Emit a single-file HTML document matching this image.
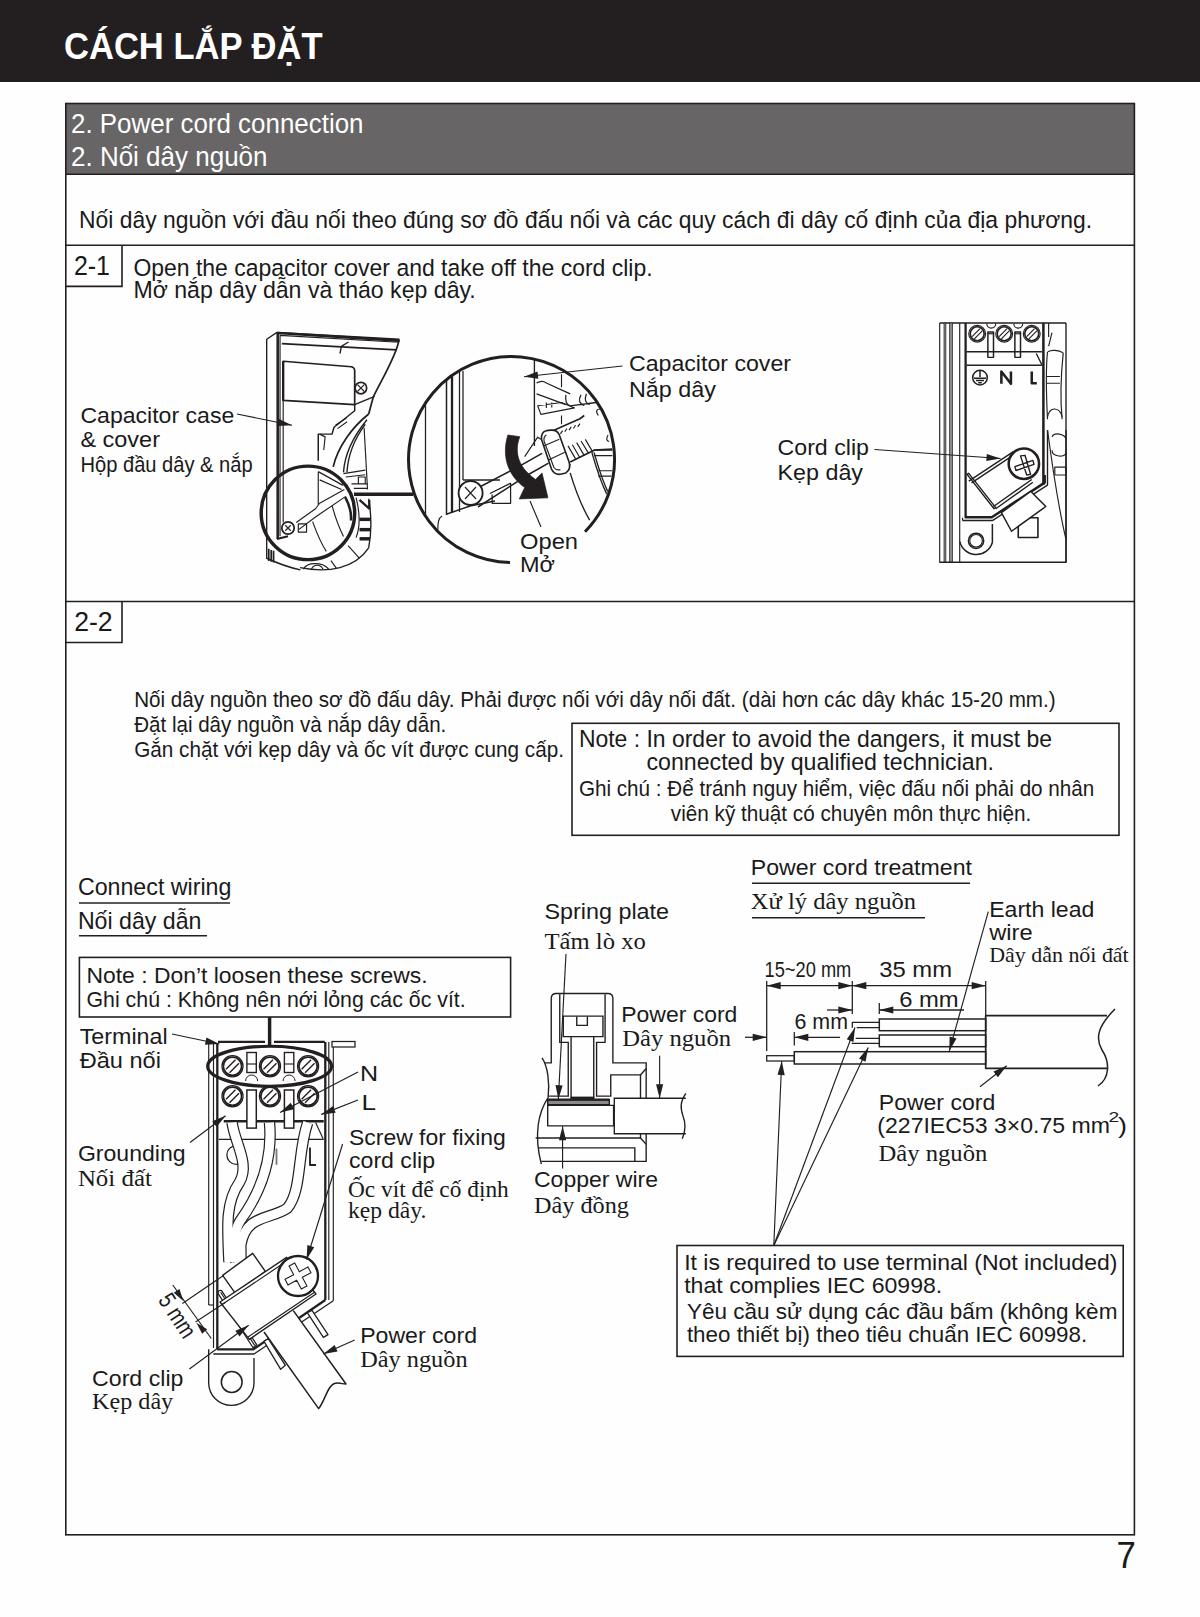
<!DOCTYPE html>
<html><head><meta charset="utf-8"><title>Cách lắp đặt</title>
<style>html,body{margin:0;padding:0;background:#fff;width:1200px;height:1617px;overflow:hidden}svg{display:block}</style>
</head><body>
<svg width="1200" height="1617" viewBox="0 0 1200 1617">
<rect width="1200" height="1617" fill="#fefefe"/>
<rect x="0" y="0" width="1200" height="82" fill="#231f20"/>
<text x="64.00" y="59.40" font-size="37.260000000000005" style="font-family:'Liberation Sans', sans-serif;font-weight:bold;" textLength="258.52" lengthAdjust="spacingAndGlyphs" fill="#ffffff" >CÁCH LẮP ĐẶT</text>
<rect x="65.5" y="103.5" width="1069" height="71" fill="#676566"/>
<text x="71.00" y="132.50" font-size="28.080000000000002" style="font-family:'Liberation Sans', sans-serif;" textLength="292.51" lengthAdjust="spacingAndGlyphs" fill="#ffffff" >2. Power cord connection</text>
<text x="71.00" y="165.80" font-size="28.080000000000002" style="font-family:'Liberation Sans', sans-serif;" textLength="196.50" lengthAdjust="spacingAndGlyphs" fill="#ffffff" >2. Nối dây nguồn</text>
<rect x="65.8" y="103.5" width="1068.6" height="1431.3" stroke="#231f20" stroke-width="1.6" fill="none"/>
<line x1="65.8" y1="174.3" x2="1134.4" y2="174.3" stroke="#231f20" stroke-width="1.6" fill="none"/>
<line x1="65.8" y1="245.3" x2="1134.4" y2="245.3" stroke="#231f20" stroke-width="1.6" fill="none"/>
<line x1="65.8" y1="601.5" x2="1134.4" y2="601.5" stroke="#231f20" stroke-width="1.6" fill="none"/>
<polyline points="65.8,286.4 122,286.4 122,245.3" stroke="#231f20" stroke-width="1.6" fill="none"/>
<polyline points="65.8,642.5 122,642.5 122,601.5" stroke="#231f20" stroke-width="1.6" fill="none"/>
<text x="79.00" y="227.60" font-size="23.76" style="font-family:'Liberation Sans', sans-serif;" textLength="1013.01" lengthAdjust="spacingAndGlyphs" fill="#1a1a1a" >Nối dây nguồn với đầu nối theo đúng sơ đồ đấu nối và các quy cách đi dây cố định của địa phương.</text>
<text x="73.90" y="275.00" font-size="28.080000000000002" style="font-family:'Liberation Sans', sans-serif;" textLength="36.11" lengthAdjust="spacingAndGlyphs" fill="#1a1a1a" >2-1</text>
<text x="133.40" y="275.50" font-size="24.3" style="font-family:'Liberation Sans', sans-serif;" textLength="519.20" lengthAdjust="spacingAndGlyphs" fill="#1a1a1a" >Open the capacitor cover and take off the cord clip.</text>
<text x="133.40" y="298.00" font-size="24.3" style="font-family:'Liberation Sans', sans-serif;" textLength="342.39" lengthAdjust="spacingAndGlyphs" fill="#1a1a1a" >Mở nắp dây dẫn và tháo kẹp dây.</text>
<text x="80.40" y="422.80" font-size="22.464000000000002" style="font-family:'Liberation Sans', sans-serif;" textLength="153.90" lengthAdjust="spacingAndGlyphs" fill="#1a1a1a" >Capacitor case</text>
<text x="80.40" y="446.60" font-size="22.464000000000002" style="font-family:'Liberation Sans', sans-serif;" textLength="79.60" lengthAdjust="spacingAndGlyphs" fill="#1a1a1a" >&amp; cover</text>
<text x="80.50" y="472.30" font-size="22.464000000000002" style="font-family:'Liberation Sans', sans-serif;" textLength="172.10" lengthAdjust="spacingAndGlyphs" fill="#1a1a1a" >Hộp đầu dây &amp; nắp</text>
<text x="629.00" y="371.30" font-size="22.68" style="font-family:'Liberation Sans', sans-serif;" textLength="162.00" lengthAdjust="spacingAndGlyphs" fill="#1a1a1a" >Capacitor cover</text>
<text x="629.00" y="396.80" font-size="22.68" style="font-family:'Liberation Sans', sans-serif;" textLength="86.99" lengthAdjust="spacingAndGlyphs" fill="#1a1a1a" >Nắp dây</text>
<text x="777.50" y="455.30" font-size="22.68" style="font-family:'Liberation Sans', sans-serif;" textLength="91.50" lengthAdjust="spacingAndGlyphs" fill="#1a1a1a" >Cord clip</text>
<text x="777.50" y="479.80" font-size="22.68" style="font-family:'Liberation Sans', sans-serif;" textLength="85.51" lengthAdjust="spacingAndGlyphs" fill="#1a1a1a" >Kẹp dây</text>
<text x="520.00" y="549.30" font-size="22.68" style="font-family:'Liberation Sans', sans-serif;" textLength="58.01" lengthAdjust="spacingAndGlyphs" fill="#1a1a1a" >Open</text>
<text x="520.00" y="572.30" font-size="22.68" style="font-family:'Liberation Sans', sans-serif;" textLength="34.99" lengthAdjust="spacingAndGlyphs" fill="#1a1a1a" >Mở</text>
<text x="74.20" y="631.40" font-size="28.080000000000002" style="font-family:'Liberation Sans', sans-serif;" textLength="38.51" lengthAdjust="spacingAndGlyphs" fill="#1a1a1a" >2-2</text>
<text x="134.20" y="706.80" font-size="22.68" style="font-family:'Liberation Sans', sans-serif;" textLength="921.39" lengthAdjust="spacingAndGlyphs" fill="#1a1a1a" >Nối dây nguồn theo sơ đồ đấu dây. Phải được nối với dây nối đất. (dài hơn các dây khác 15-20 mm.)</text>
<text x="134.20" y="731.80" font-size="22.68" style="font-family:'Liberation Sans', sans-serif;" textLength="312.10" lengthAdjust="spacingAndGlyphs" fill="#1a1a1a" >Đặt lại dây nguồn và nắp dây dẫn.</text>
<text x="134.20" y="756.70" font-size="22.68" style="font-family:'Liberation Sans', sans-serif;" textLength="429.80" lengthAdjust="spacingAndGlyphs" fill="#1a1a1a" >Gắn chặt với kẹp dây và ốc vít được cung cấp.</text>
<rect x="572" y="723.3" width="547" height="112" stroke="#231f20" stroke-width="1.6" fill="none"/>
<text x="578.90" y="747.10" font-size="23.220000000000002" style="font-family:'Liberation Sans', sans-serif;" textLength="473.09" lengthAdjust="spacingAndGlyphs" fill="#1a1a1a" >Note : In order to avoid the dangers, it must be</text>
<text x="646.50" y="770.40" font-size="23.220000000000002" style="font-family:'Liberation Sans', sans-serif;" textLength="347.51" lengthAdjust="spacingAndGlyphs" fill="#1a1a1a" >connected by qualified technician.</text>
<text x="578.90" y="796.10" font-size="22.68" style="font-family:'Liberation Sans', sans-serif;" textLength="515.39" lengthAdjust="spacingAndGlyphs" fill="#1a1a1a" >Ghi chú : Để tránh nguy hiểm, việc đấu nối phải do nhân</text>
<text x="670.80" y="820.80" font-size="22.68" style="font-family:'Liberation Sans', sans-serif;" textLength="360.51" lengthAdjust="spacingAndGlyphs" fill="#1a1a1a" >viên kỹ thuật có chuyên môn thực hiện.</text>
<text x="77.90" y="895.20" font-size="23.220000000000002" style="font-family:'Liberation Sans', sans-serif;" textLength="153.51" lengthAdjust="spacingAndGlyphs" fill="#1a1a1a" >Connect wiring</text>
<line x1="79" y1="903" x2="230" y2="903" stroke="#231f20" stroke-width="1.6" fill="none"/>
<text x="77.90" y="928.80" font-size="23.220000000000002" style="font-family:'Liberation Sans', sans-serif;" textLength="123.50" lengthAdjust="spacingAndGlyphs" fill="#1a1a1a" >Nối dây dẫn</text>
<line x1="79" y1="935.8" x2="207" y2="935.8" stroke="#231f20" stroke-width="1.6" fill="none"/>
<rect x="79.4" y="957.4" width="431.2" height="59.6" stroke="#231f20" stroke-width="1.6" fill="none"/>
<text x="86.50" y="982.50" font-size="22.68" style="font-family:'Liberation Sans', sans-serif;" textLength="341.00" lengthAdjust="spacingAndGlyphs" fill="#1a1a1a" >Note : Don’t loosen these screws.</text>
<text x="86.50" y="1006.50" font-size="22.68" style="font-family:'Liberation Sans', sans-serif;" textLength="379.21" lengthAdjust="spacingAndGlyphs" fill="#1a1a1a" >Ghi chú : Không nên nới lỏng các ốc vít.</text>
<text x="79.70" y="1044.40" font-size="22.68" style="font-family:'Liberation Sans', sans-serif;" textLength="87.90" lengthAdjust="spacingAndGlyphs" fill="#1a1a1a" >Terminal</text>
<text x="79.70" y="1068.40" font-size="22.68" style="font-family:'Liberation Sans', sans-serif;" textLength="81.20" lengthAdjust="spacingAndGlyphs" fill="#1a1a1a" >Đầu nối</text>
<text x="359.90" y="1081.40" font-size="22.68" style="font-family:'Liberation Sans', sans-serif;" textLength="18.10" lengthAdjust="spacingAndGlyphs" fill="#1a1a1a" >N</text>
<text x="361.50" y="1109.50" font-size="22.68" style="font-family:'Liberation Sans', sans-serif;" textLength="14.50" lengthAdjust="spacingAndGlyphs" fill="#1a1a1a" >L</text>
<text x="77.90" y="1161.30" font-size="22.68" style="font-family:'Liberation Sans', sans-serif;" textLength="107.70" lengthAdjust="spacingAndGlyphs" fill="#1a1a1a" >Grounding</text>
<text x="77.90" y="1185.70" font-size="22.464000000000002" style="font-family:'Liberation Serif', serif;" textLength="73.99" lengthAdjust="spacingAndGlyphs" fill="#1a1a1a" >Nối đất</text>
<text x="349.00" y="1145.20" font-size="22.68" style="font-family:'Liberation Sans', sans-serif;" textLength="156.81" lengthAdjust="spacingAndGlyphs" fill="#1a1a1a" >Screw for fixing</text>
<text x="349.00" y="1167.70" font-size="22.68" style="font-family:'Liberation Sans', sans-serif;" textLength="85.99" lengthAdjust="spacingAndGlyphs" fill="#1a1a1a" >cord clip</text>
<text x="347.90" y="1196.50" font-size="22.464000000000002" style="font-family:'Liberation Serif', serif;" textLength="160.90" lengthAdjust="spacingAndGlyphs" fill="#1a1a1a" >Ốc vít để cố định</text>
<text x="347.90" y="1218.30" font-size="22.464000000000002" style="font-family:'Liberation Serif', serif;" textLength="78.49" lengthAdjust="spacingAndGlyphs" fill="#1a1a1a" >kẹp dây.</text>
<text x="360.20" y="1342.50" font-size="22.68" style="font-family:'Liberation Sans', sans-serif;" textLength="116.79" lengthAdjust="spacingAndGlyphs" fill="#1a1a1a" >Power cord</text>
<text x="360.20" y="1366.80" font-size="22.464000000000002" style="font-family:'Liberation Serif', serif;" textLength="107.40" lengthAdjust="spacingAndGlyphs" fill="#1a1a1a" >Dây nguồn</text>
<text x="92.10" y="1386.40" font-size="22.68" style="font-family:'Liberation Sans', sans-serif;" textLength="91.30" lengthAdjust="spacingAndGlyphs" fill="#1a1a1a" >Cord clip</text>
<text x="92.10" y="1408.80" font-size="22.464000000000002" style="font-family:'Liberation Serif', serif;" textLength="81.10" lengthAdjust="spacingAndGlyphs" fill="#1a1a1a" >Kẹp dây</text>
<text x="544.50" y="918.60" font-size="22.68" style="font-family:'Liberation Sans', sans-serif;" textLength="124.50" lengthAdjust="spacingAndGlyphs" fill="#1a1a1a" >Spring plate</text>
<text x="544.50" y="948.60" font-size="22.464000000000002" style="font-family:'Liberation Serif', serif;" textLength="101.31" lengthAdjust="spacingAndGlyphs" fill="#1a1a1a" >Tấm lò xo</text>
<text x="621.30" y="1022.30" font-size="22.68" style="font-family:'Liberation Sans', sans-serif;" textLength="115.99" lengthAdjust="spacingAndGlyphs" fill="#1a1a1a" >Power cord</text>
<text x="622.30" y="1046.40" font-size="22.464000000000002" style="font-family:'Liberation Serif', serif;" textLength="108.70" lengthAdjust="spacingAndGlyphs" fill="#1a1a1a" >Dây nguồn</text>
<text x="534.00" y="1187.40" font-size="22.68" style="font-family:'Liberation Sans', sans-serif;" textLength="124.00" lengthAdjust="spacingAndGlyphs" fill="#1a1a1a" >Copper wire</text>
<text x="534.00" y="1212.60" font-size="22.464000000000002" style="font-family:'Liberation Serif', serif;" textLength="95.00" lengthAdjust="spacingAndGlyphs" fill="#1a1a1a" >Dây đồng</text>
<text x="750.80" y="875.10" font-size="22.68" style="font-family:'Liberation Sans', sans-serif;" textLength="221.19" lengthAdjust="spacingAndGlyphs" fill="#1a1a1a" >Power cord treatment</text>
<line x1="752" y1="883.3" x2="970" y2="883.3" stroke="#231f20" stroke-width="1.6" fill="none"/>
<text x="750.80" y="909.10" font-size="22.464000000000002" style="font-family:'Liberation Serif', serif;" textLength="165.20" lengthAdjust="spacingAndGlyphs" fill="#1a1a1a" >Xử lý dây nguồn</text>
<line x1="752" y1="917.7" x2="925" y2="917.7" stroke="#231f20" stroke-width="1.6" fill="none"/>
<text x="989.20" y="916.50" font-size="22.68" style="font-family:'Liberation Sans', sans-serif;" textLength="105.09" lengthAdjust="spacingAndGlyphs" fill="#1a1a1a" >Earth lead</text>
<text x="989.25" y="940.10" font-size="22.68" style="font-family:'Liberation Sans', sans-serif;" textLength="43.44" lengthAdjust="spacingAndGlyphs" fill="#1a1a1a" >wire</text>
<text x="989.20" y="961.80" font-size="21.924000000000003" style="font-family:'Liberation Serif', serif;" textLength="139.51" lengthAdjust="spacingAndGlyphs" fill="#1a1a1a" >Dây dẫn nối đất</text>
<text x="764.50" y="976.80" font-size="22.68" style="font-family:'Liberation Sans', sans-serif;" textLength="86.81" lengthAdjust="spacingAndGlyphs" fill="#1a1a1a" >15~20 mm</text>
<text x="879.20" y="976.80" font-size="22.68" style="font-family:'Liberation Sans', sans-serif;" textLength="72.80" lengthAdjust="spacingAndGlyphs" fill="#1a1a1a" >35 mm</text>
<text x="899.20" y="1006.80" font-size="22.68" style="font-family:'Liberation Sans', sans-serif;" textLength="59.50" lengthAdjust="spacingAndGlyphs" fill="#1a1a1a" >6 mm</text>
<text x="794.50" y="1028.50" font-size="22.68" style="font-family:'Liberation Sans', sans-serif;" textLength="53.50" lengthAdjust="spacingAndGlyphs" fill="#1a1a1a" >6 mm</text>
<text x="878.80" y="1110.40" font-size="22.68" style="font-family:'Liberation Sans', sans-serif;" textLength="116.39" lengthAdjust="spacingAndGlyphs" fill="#1a1a1a" >Power cord</text>
<text x="877.30" y="1132.70" font-size="22.68" style="font-family:'Liberation Sans', sans-serif;" textLength="232.70" lengthAdjust="spacingAndGlyphs" fill="#1a1a1a" >(227IEC53 3×0.75 mm</text>
<text x="1108.50" y="1121.60" font-size="15.120000000000001" style="font-family:'Liberation Sans', sans-serif;" textLength="10.70" lengthAdjust="spacingAndGlyphs" fill="#1a1a1a" >2</text>
<text x="1118.10" y="1132.70" font-size="22.68" style="font-family:'Liberation Sans', sans-serif;" textLength="9.00" lengthAdjust="spacingAndGlyphs" fill="#1a1a1a" >)</text>
<text x="878.50" y="1161.30" font-size="22.464000000000002" style="font-family:'Liberation Serif', serif;" textLength="108.80" lengthAdjust="spacingAndGlyphs" fill="#1a1a1a" >Dây nguồn</text>
<rect x="677" y="1245.5" width="446.2" height="110.9" stroke="#231f20" stroke-width="1.6" fill="none"/>
<text x="684.20" y="1270.20" font-size="22.68" style="font-family:'Liberation Sans', sans-serif;" textLength="433.20" lengthAdjust="spacingAndGlyphs" fill="#1a1a1a" >It is required to use terminal (Not included)</text>
<text x="684.20" y="1292.50" font-size="22.68" style="font-family:'Liberation Sans', sans-serif;" textLength="258.10" lengthAdjust="spacingAndGlyphs" fill="#1a1a1a" >that complies IEC 60998.</text>
<text x="686.90" y="1318.80" font-size="22.68" style="font-family:'Liberation Sans', sans-serif;" textLength="430.50" lengthAdjust="spacingAndGlyphs" fill="#1a1a1a" >Yêu cầu sử dụng các đầu bấm (không kèm</text>
<text x="686.90" y="1341.50" font-size="22.68" style="font-family:'Liberation Sans', sans-serif;" textLength="400.31" lengthAdjust="spacingAndGlyphs" fill="#1a1a1a" >theo thiết bị) theo tiêu chuẩn IEC 60998.</text>
<text x="1116.40" y="1568.10" font-size="37.800000000000004" style="font-family:'Liberation Sans', sans-serif;" textLength="19.36" lengthAdjust="spacingAndGlyphs" fill="#1a1a1a" >7</text>

<line x1="766.70" y1="985.70" x2="985.70" y2="985.70" stroke="#231f20" stroke-width="1.265"/>
<path d="M766.70,985.70 L780.70,982.10 L780.70,989.30 Z" fill="#231f20"/>
<path d="M852.30,985.70 L838.30,989.30 L838.30,982.10 Z" fill="#231f20"/>
<path d="M852.30,985.70 L866.30,982.10 L866.30,989.30 Z" fill="#231f20"/>
<path d="M985.70,985.70 L971.70,989.30 L971.70,982.10 Z" fill="#231f20"/>
<line x1="766.70" y1="981.00" x2="766.70" y2="1051.00" stroke="#231f20" stroke-width="1.265"/>
<line x1="852.30" y1="981.00" x2="852.30" y2="1014.00" stroke="#231f20" stroke-width="1.265"/>
<line x1="985.70" y1="981.00" x2="985.70" y2="1016.00" stroke="#231f20" stroke-width="1.265"/>
<line x1="879.30" y1="1003.00" x2="879.30" y2="1014.00" stroke="#231f20" stroke-width="1.265"/>
<line x1="794.30" y1="1032.00" x2="794.30" y2="1045.50" stroke="#231f20" stroke-width="1.265"/>
<line x1="827.00" y1="1010.00" x2="852.30" y2="1010.00" stroke="#231f20" stroke-width="1.265"/>
<path d="M852.30,1010.00 L838.30,1013.60 L838.30,1006.40 Z" fill="#231f20"/>
<line x1="879.30" y1="1010.00" x2="964.00" y2="1010.00" stroke="#231f20" stroke-width="1.265"/>
<path d="M879.30,1010.00 L893.30,1006.40 L893.30,1013.60 Z" fill="#231f20"/>
<line x1="745.00" y1="1037.30" x2="766.70" y2="1037.30" stroke="#231f20" stroke-width="1.265"/>
<path d="M766.70,1037.30 L752.70,1040.90 L752.70,1033.70 Z" fill="#231f20"/>
<line x1="794.30" y1="1037.30" x2="840.00" y2="1037.30" stroke="#231f20" stroke-width="1.265"/>
<path d="M794.30,1037.30 L808.30,1033.70 L808.30,1040.90 Z" fill="#231f20"/>
<path d="M1107,1015.7 H985.7 V1068.3 H1108" stroke="#231f20" stroke-width="1.7249999999999999" fill="none" stroke-linejoin="round" />
<path d="M1115,1009 C1098,1026 1095,1038 1102,1050 C1110,1062 1110,1078 1098,1086" stroke="#231f20" stroke-width="1.4949999999999999" fill="none" stroke-linejoin="round" />
<rect x="879.30" y="1019.00" width="106.40" height="11.70" stroke="#231f20" stroke-width="1.4949999999999999" fill="none"/>
<path d="M852.3,1027.7 V1022.3 H879.3 M856.7,1027.7 H879.3" stroke="#231f20" stroke-width="1.265" fill="none" stroke-linejoin="round" />
<rect x="879.30" y="1035.00" width="106.40" height="11.70" stroke="#231f20" stroke-width="1.4949999999999999" fill="none"/>
<path d="M855.7,1038.3 H879.3 M851.7,1043.3 H879.3" stroke="#231f20" stroke-width="1.265" fill="none" stroke-linejoin="round" />
<rect x="794.30" y="1051.70" width="191.40" height="12.30" stroke="#231f20" stroke-width="1.4949999999999999" fill="none"/>
<rect x="766.70" y="1055.70" width="27.60" height="5.30" stroke="#231f20" stroke-width="1.265" fill="none"/>
<line x1="773.80" y1="1245.50" x2="781.70" y2="1061.00" stroke="#231f20" stroke-width="1.15"/>
<path d="M781.70,1061.00 L784.70,1075.14 L777.50,1074.83 Z" fill="#231f20"/>
<line x1="773.80" y1="1245.50" x2="855.00" y2="1027.50" stroke="#231f20" stroke-width="1.15"/>
<path d="M855.00,1027.50 L853.49,1041.88 L846.74,1039.36 Z" fill="#231f20"/>
<line x1="773.80" y1="1245.50" x2="868.30" y2="1047.50" stroke="#231f20" stroke-width="1.15"/>
<path d="M868.30,1047.50 L865.52,1061.69 L859.02,1058.58 Z" fill="#231f20"/>
<line x1="988.30" y1="911.70" x2="949.30" y2="1051.00" stroke="#231f20" stroke-width="1.15"/>
<path d="M949.30,1051.00 L949.61,1036.55 L956.54,1038.49 Z" fill="#231f20"/>
<line x1="980.00" y1="1086.70" x2="1006.70" y2="1065.70" stroke="#231f20" stroke-width="1.15"/>
<path d="M1006.70,1065.70 L997.92,1077.18 L993.47,1071.53 Z" fill="#231f20"/>
<path transform="translate(530,980) scale(0.141667)" d="M105,585 H150 V130 Q150,95 185,95 H550 Q585,95 585,130 V585 H820 V1280 H80" stroke="#231f20" stroke-width="9.74" fill="none" stroke-linejoin="miter"/>
<path transform="translate(530,980) scale(0.141667)" d="M85,550 C125,610 140,720 128,830 C60,930 25,1090 80,1300" stroke="#231f20" stroke-width="9.74" fill="none" stroke-linejoin="miter"/>
<path transform="translate(530,980) scale(0.141667)" d="M210,100 V440 H270 V820 H135" stroke="#231f20" stroke-width="9.74" fill="none" stroke-linejoin="miter"/>
<path transform="translate(530,980) scale(0.141667)" d="M530,100 V440 H470 V820 H570 V670 H780 V835" stroke="#231f20" stroke-width="9.74" fill="none" stroke-linejoin="miter"/>
<path transform="translate(530,980) scale(0.141667)" d="M780,670 L820,625" stroke="#231f20" stroke-width="9.74" fill="none" stroke-linejoin="miter"/>
<path transform="translate(530,980) scale(0.141667)" d="M235,400 H515 V255 H235 Z" stroke="#231f20" stroke-width="9.74" fill="none" stroke-linejoin="miter"/>
<path transform="translate(530,980) scale(0.141667)" d="M330,258 V320 H405 V258" stroke="#231f20" stroke-width="9.74" fill="none" stroke-linejoin="miter"/>
<path transform="translate(530,980) scale(0.141667)" d="M290,400 V830 M450,400 V830" stroke="#231f20" stroke-width="9.74" fill="none" stroke-linejoin="miter"/>
<path transform="translate(530,980) scale(0.141667)" d="M285,832 H455" stroke="#231f20" stroke-width="17.86" fill="none" stroke-linejoin="miter"/>
<path transform="translate(530,980) scale(0.141667)" d="M125,845 H560 V880 H125 Z" stroke="#231f20" stroke-width="9.74" fill="#8a8a8a" stroke-linejoin="miter"/>
<path transform="translate(530,980) scale(0.141667)" d="M125,845 H560" stroke="#231f20" stroke-width="16.24" fill="none" stroke-linejoin="miter"/>
<path transform="translate(530,980) scale(0.141667)" d="M125,885 H590 V1030 H125 Z" stroke="#231f20" stroke-width="9.74" fill="#ffffff" stroke-linejoin="miter"/>
<path transform="translate(530,980) scale(0.141667)" d="M1100,835 H595 V1085 H1100" stroke="#231f20" stroke-width="9.74" fill="#ffffff" stroke-linejoin="miter"/>
<path transform="translate(530,980) scale(0.141667)" d="M1100,800 C1060,860 1060,900 1080,960 C1100,1010 1100,1060 1075,1120" stroke="#231f20" stroke-width="9.74" fill="none" stroke-linejoin="miter"/>
<path transform="translate(530,980) scale(0.141667)" d="M40,1115 H780 L820,1160" stroke="#231f20" stroke-width="9.74" fill="none" stroke-linejoin="miter"/>
<path transform="translate(530,980) scale(0.141667)" d="M780,1085 V1115" stroke="#231f20" stroke-width="9.74" fill="none" stroke-linejoin="miter"/>
<path transform="translate(530,980) scale(0.141667)" d="M60,1185 H740 V1280" stroke="#231f20" stroke-width="9.74" fill="none" stroke-linejoin="miter"/>
<line x1="565.98" y1="954.07" x2="558.33" y2="1099.28" stroke="#231f20" stroke-width="1.15"/>
<path d="M558.33,1099.28 L555.47,1085.11 L562.66,1085.49 Z" fill="#231f20"/>
<line x1="659.63" y1="1055.79" x2="659.63" y2="1098.29" stroke="#231f20" stroke-width="1.15"/>
<path d="M659.63,1098.29 L656.03,1084.29 L663.23,1084.29 Z" fill="#231f20"/>
<line x1="562.58" y1="1168.42" x2="562.58" y2="1126.20" stroke="#231f20" stroke-width="1.15"/>
<path d="M562.58,1126.20 L566.18,1140.20 L558.98,1140.20 Z" fill="#231f20"/>
<line x1="939.70" y1="323.00" x2="1066.00" y2="323.00" stroke="#231f20" stroke-width="1.38"/>
<line x1="1066.00" y1="323.00" x2="1066.00" y2="562.50" stroke="#231f20" stroke-width="1.38"/>
<line x1="939.70" y1="323.00" x2="939.70" y2="562.50" stroke="#231f20" stroke-width="1.15"/>
<rect x="944" y="323" width="1.9" height="239.5" fill="#8a8a8a" stroke="#231f20" stroke-width="0.7"/>
<rect x="949.6" y="323" width="2.9" height="239.5" fill="#8a8a8a" stroke="#231f20" stroke-width="0.7"/>
<line x1="959.70" y1="323.00" x2="959.70" y2="562.00" stroke="#231f20" stroke-width="1.15"/>
<line x1="965.60" y1="323.00" x2="965.60" y2="517.50" stroke="#231f20" stroke-width="2.3"/>
<line x1="1043.40" y1="323.00" x2="1043.40" y2="485.00" stroke="#231f20" stroke-width="2.53"/>
<path transform="translate(935,318) scale(0.112499)" d="M1010,45 V170" stroke="#231f20" stroke-width="10.22" fill="none" stroke-linejoin="round" />
<path transform="translate(935,318) scale(0.112499)" d="M280,300 H950 M280,420 H950 M900,315 L950,415" stroke="#231f20" stroke-width="12.27" fill="none" stroke-linejoin="round" />
<circle transform="translate(935,318) scale(0.112499)" cx="375" cy="140" r="75" stroke="#231f20" stroke-width="10.22" fill="none"/>
<circle transform="translate(935,318) scale(0.112499)" cx="375" cy="140" r="62" stroke="#231f20" stroke-width="14.31" fill="none"/>
<path transform="translate(935,318) scale(0.112499)" d="M330,165 L400,95 M350,185 L420,115" stroke="#231f20" stroke-width="10.22" fill="none" stroke-linejoin="round" />
<circle transform="translate(935,318) scale(0.112499)" cx="615" cy="140" r="75" stroke="#231f20" stroke-width="10.22" fill="none"/>
<circle transform="translate(935,318) scale(0.112499)" cx="615" cy="140" r="62" stroke="#231f20" stroke-width="14.31" fill="none"/>
<path transform="translate(935,318) scale(0.112499)" d="M570,165 L640,95 M590,185 L660,115" stroke="#231f20" stroke-width="10.22" fill="none" stroke-linejoin="round" />
<circle transform="translate(935,318) scale(0.112499)" cx="860" cy="140" r="75" stroke="#231f20" stroke-width="10.22" fill="none"/>
<circle transform="translate(935,318) scale(0.112499)" cx="860" cy="140" r="62" stroke="#231f20" stroke-width="14.31" fill="none"/>
<path transform="translate(935,318) scale(0.112499)" d="M815,165 L885,95 M835,185 L905,115" stroke="#231f20" stroke-width="10.22" fill="none" stroke-linejoin="round" />
<path transform="translate(935,318) scale(0.112499)" d="M470,350 V125 H520 V350 Z" stroke="#231f20" stroke-width="13.29" fill="none" stroke-linejoin="round" />
<path transform="translate(935,318) scale(0.112499)" d="M470,140 H520" stroke="#231f20" stroke-width="10.22" fill="none" stroke-linejoin="round" />
<path transform="translate(935,318) scale(0.112499)" d="M710,350 V125 H760 V350 Z" stroke="#231f20" stroke-width="13.29" fill="none" stroke-linejoin="round" />
<path transform="translate(935,318) scale(0.112499)" d="M710,140 H760" stroke="#231f20" stroke-width="10.22" fill="none" stroke-linejoin="round" />
<path transform="translate(935,318) scale(0.112499)" d="M460,50 A40,40 0 0 0 540,50" stroke="#231f20" stroke-width="10.22" fill="none" stroke-linejoin="round" />
<path transform="translate(935,318) scale(0.112499)" d="M700,50 A40,40 0 0 0 780,50" stroke="#231f20" stroke-width="10.22" fill="none" stroke-linejoin="round" />
<circle transform="translate(935,318) scale(0.112499)" cx="400" cy="530" r="65" stroke="#231f20" stroke-width="13.29" fill="none"/>
<path transform="translate(935,318) scale(0.112499)" d="M400,470 V525 M345,535 H455 M365,555 H435 M385,575 H415" stroke="#231f20" stroke-width="13.29" fill="none" stroke-linejoin="round" />
<path transform="translate(935,318) scale(0.112499)" d="M590,585 V475 L675,585 V475" stroke="#231f20" stroke-width="22.49" fill="none" stroke-linejoin="round" />
<path transform="translate(935,318) scale(0.112499)" d="M860,475 V580 H905" stroke="#231f20" stroke-width="22.49" fill="none" stroke-linejoin="round" />
<path transform="translate(935,318) scale(0.112499)" d="M1005,300 C1030,280 1100,285 1140,310 M990,520 H1110 M990,580 H1110 M1000,300 C980,500 990,700 1000,900 M1140,310 C1120,500 1110,700 1130,900 M1040,130 L1010,250" stroke="#231f20" stroke-width="10.22" fill="none" stroke-linejoin="round" />
<path transform="translate(935,318) scale(0.112499)" d="M1000,880 C1020,780 1110,790 1130,880" stroke="#231f20" stroke-width="10.22" fill="none" stroke-linejoin="round" />
<path transform="translate(935,430) scale(0.112499)" d="M40,1175 H1165 V0" stroke="#231f20" stroke-width="12.27" fill="none" stroke-linejoin="round" />
<path transform="translate(935,430) scale(0.112499)" d="M265,775 H505 L975,468 V400" stroke="#231f20" stroke-width="22.49" fill="none" stroke-linejoin="round" />
<path transform="translate(935,430) scale(0.112499)" d="M245,805 H510 L1000,490 V0" stroke="#231f20" stroke-width="12.27" fill="none" stroke-linejoin="round" />
<path transform="translate(935,430) scale(0.112499)" d="M245,780 V805" stroke="#231f20" stroke-width="10.22" fill="none" stroke-linejoin="round" />
<path transform="translate(935,430) scale(0.112499)" d="M220,990 A150,150 0 0 0 510,1000 V835" stroke="#231f20" stroke-width="13.29" fill="none" stroke-linejoin="round" />
<circle transform="translate(935,430) scale(0.112499)" cx="365" cy="985" r="68" stroke="#231f20" stroke-width="13.29" fill="none"/>
<circle transform="translate(935,430) scale(0.112499)" cx="365" cy="985" r="56" stroke="#231f20" stroke-width="10.22" fill="none"/>
<path transform="translate(935,430) scale(0.112499)" d="M1000,0 C1040,300 1100,700 1165,975" stroke="#231f20" stroke-width="10.22" fill="none" stroke-linejoin="round" />
<path transform="translate(935,430) scale(0.112499)" d="M1040,60 C1060,20 1150,30 1165,80 M1040,180 C1040,240 1160,250 1165,200 M1065,330 H1165 V400 H1065 Z" stroke="#231f20" stroke-width="10.22" fill="none" stroke-linejoin="round" />
<path transform="translate(935,430) scale(0.112499)" d="M285,395 L300,385 L540,690 L525,700 Z" stroke="#231f20" stroke-width="12.27" fill="none" stroke-linejoin="round" />
<path transform="translate(935,430) scale(0.112499)" d="M300,455 L700,190 M325,470 L710,215" stroke="#231f20" stroke-width="12.27" fill="none" stroke-linejoin="round" />
<path transform="translate(935,430) scale(0.112499)" d="M520,680 L860,440 M540,700 L870,465" stroke="#231f20" stroke-width="12.27" fill="none" stroke-linejoin="round" />
<path transform="translate(935,430) scale(0.112499)" d="M740,780 H915 V955 H740 Z" stroke="#231f20" stroke-width="14.31" fill="none" stroke-linejoin="round" />
<path transform="translate(935,430) scale(0.112499)" d="M590,735 L850,545 L985,680 L680,900 Z" stroke="#231f20" stroke-width="13.29" fill="#ffffff" stroke-linejoin="round" />
<circle transform="translate(935,430) scale(0.112499)" cx="790" cy="300" r="135" stroke="#231f20" stroke-width="22.49" fill="#ffffff"/>
<path transform="translate(935,430) scale(0.112499)" d="M760,230 L800,225 L850,395 L815,400 Z M710,325 L870,270 L880,305 L720,360 Z" stroke="#231f20" stroke-width="12.27" fill="none" stroke-linejoin="round" />
<line x1="208.70" y1="1043.00" x2="208.70" y2="1305.00" stroke="#231f20" stroke-width="1.15"/>
<line x1="208.70" y1="1305.00" x2="213.30" y2="1305.00" stroke="#231f20" stroke-width="1.15"/>
<line x1="213.50" y1="1043.00" x2="213.50" y2="1348.00" stroke="#231f20" stroke-width="1.15"/>
<line x1="217.30" y1="1043.00" x2="217.30" y2="1349.30" stroke="#231f20" stroke-width="2.3"/>
<line x1="325.30" y1="1041.90" x2="325.30" y2="1300.00" stroke="#231f20" stroke-width="2.3"/>
<line x1="328.80" y1="1041.90" x2="328.80" y2="1300.00" stroke="#231f20" stroke-width="1.15"/>
<line x1="333.30" y1="1047.00" x2="333.30" y2="1300.70" stroke="#231f20" stroke-width="1.15"/>
<path d="M217.3,1349.3 H253.3 L325.3,1300" stroke="#231f20" stroke-width="2.3" fill="none" stroke-linejoin="round" />
<path d="M213.3,1354 H254 L333.3,1300.7" stroke="#231f20" stroke-width="1.265" fill="none" stroke-linejoin="round" />
<path d="M218,1041.9 H265 M274,1041.9 H324.8" stroke="#231f20" stroke-width="2.3" fill="none" stroke-linejoin="round" />
<rect x="332.00" y="1041.50" width="23.00" height="5.50" stroke="#231f20" stroke-width="1.265" fill="none"/>
<line x1="223.75" y1="1121.25" x2="323.75" y2="1121.25" stroke="#231f20" stroke-width="2.3"/>
<line x1="218.75" y1="1139.40" x2="323.75" y2="1139.40" stroke="#231f20" stroke-width="1.265"/>
<line x1="315.60" y1="1122.50" x2="323.10" y2="1138.75" stroke="#231f20" stroke-width="1.15"/>
<circle cx="236.25" cy="1155.00" r="9.40" stroke="#231f20" stroke-width="1.265" fill="none"/>
<path d="M310,1147.5 V1165 H316" stroke="#231f20" stroke-width="1.8399999999999999" fill="none" stroke-linejoin="round" />
<path d="M276.5,1148.6 V1164.8" stroke="#231f20" stroke-width="1.8399999999999999" fill="none" stroke-linejoin="round" stroke-opacity="0.6"/>
<path d="M232.1,1122.6 C234.3,1142 250.3,1163.8 239.5,1182.2 C226,1201.7 226.9,1223.3 229,1262" stroke="#231f20" stroke-width="11.5" fill="none" stroke-linejoin="round" />
<path d="M269.5,1122.6 C272.2,1152.9 265.7,1185.4 240.5,1220.3 C232,1233 234,1250 236,1262" stroke="#231f20" stroke-width="11.5" fill="none" stroke-linejoin="round" />
<path d="M307.7,1122.6 C297.1,1152.9 302.2,1190.8 287.3,1208.2 C270,1220 246,1214 240.8,1245 L241,1262" stroke="#231f20" stroke-width="11.5" fill="none" stroke-linejoin="round" />
<path d="M232.1,1122.6 C234.3,1142 250.3,1163.8 239.5,1182.2 C226,1201.7 226.9,1223.3 229,1262" stroke="#ffffff" stroke-width="9.1" fill="none"/>
<path d="M269.5,1122.6 C272.2,1152.9 265.7,1185.4 240.5,1220.3 C232,1233 234,1250 236,1262" stroke="#ffffff" stroke-width="9.1" fill="none"/>
<path d="M307.7,1122.6 C297.1,1152.9 302.2,1190.8 287.3,1208.2 C270,1220 246,1214 240.8,1245 L241,1262" stroke="#ffffff" stroke-width="9.1" fill="none"/>
<rect x="246.90" y="1052.50" width="9.40" height="20.00" stroke="#231f20" stroke-width="1.38" fill="#ffffff"/>
<rect x="246.90" y="1090.00" width="9.40" height="38.10" stroke="#231f20" stroke-width="1.4949999999999999" fill="#ffffff"/>
<line x1="246.90" y1="1064.00" x2="256.30" y2="1064.00" stroke="#231f20" stroke-width="1.15"/>
<rect x="284.40" y="1052.50" width="9.40" height="20.00" stroke="#231f20" stroke-width="1.38" fill="#ffffff"/>
<rect x="284.40" y="1090.00" width="9.40" height="38.10" stroke="#231f20" stroke-width="1.4949999999999999" fill="#ffffff"/>
<line x1="284.40" y1="1064.00" x2="293.80" y2="1064.00" stroke="#231f20" stroke-width="1.15"/>
<path d="M245.6,1081 A6,6 0 0 1 257.6,1081" stroke="#231f20" stroke-width="1" fill="none"/>
<path d="M283.1,1081 A6,6 0 0 1 295.1,1081" stroke="#231f20" stroke-width="1" fill="none"/>
<circle cx="232.50" cy="1066.25" r="10.60" stroke="#231f20" stroke-width="1.15" fill="#ffffff"/>
<circle cx="232.50" cy="1066.25" r="9.20" stroke="#231f20" stroke-width="1.8399999999999999" fill="none"/>
<path d="M226.0,1069.25 L235.5,1059.75 M229.5,1072.75 L239.0,1063.25" stroke="#231f20" stroke-width="1.38" fill="none" stroke-linejoin="round" />
<circle cx="270.00" cy="1066.25" r="10.60" stroke="#231f20" stroke-width="1.15" fill="#ffffff"/>
<circle cx="270.00" cy="1066.25" r="9.20" stroke="#231f20" stroke-width="1.8399999999999999" fill="none"/>
<path d="M263.5,1069.25 L273,1059.75 M267,1072.75 L276.5,1063.25" stroke="#231f20" stroke-width="1.38" fill="none" stroke-linejoin="round" />
<circle cx="308.10" cy="1066.25" r="10.60" stroke="#231f20" stroke-width="1.15" fill="#ffffff"/>
<circle cx="308.10" cy="1066.25" r="9.20" stroke="#231f20" stroke-width="1.8399999999999999" fill="none"/>
<path d="M301.6,1069.25 L311.1,1059.75 M305.1,1072.75 L314.6,1063.25" stroke="#231f20" stroke-width="1.38" fill="none" stroke-linejoin="round" />
<circle cx="232.50" cy="1096.25" r="10.60" stroke="#231f20" stroke-width="1.15" fill="#ffffff"/>
<circle cx="232.50" cy="1096.25" r="9.20" stroke="#231f20" stroke-width="1.8399999999999999" fill="none"/>
<path d="M226.0,1099.25 L235.5,1089.75 M229.5,1102.75 L239.0,1093.25" stroke="#231f20" stroke-width="1.38" fill="none" stroke-linejoin="round" />
<circle cx="270.00" cy="1096.25" r="10.60" stroke="#231f20" stroke-width="1.15" fill="#ffffff"/>
<circle cx="270.00" cy="1096.25" r="9.20" stroke="#231f20" stroke-width="1.8399999999999999" fill="none"/>
<path d="M263.5,1099.25 L273,1089.75 M267,1102.75 L276.5,1093.25" stroke="#231f20" stroke-width="1.38" fill="none" stroke-linejoin="round" />
<circle cx="308.10" cy="1096.25" r="10.60" stroke="#231f20" stroke-width="1.15" fill="#ffffff"/>
<circle cx="308.10" cy="1096.25" r="9.20" stroke="#231f20" stroke-width="1.8399999999999999" fill="none"/>
<path d="M301.6,1099.25 L311.1,1089.75 M305.1,1102.75 L314.6,1093.25" stroke="#231f20" stroke-width="1.38" fill="none" stroke-linejoin="round" />
<line x1="269.60" y1="1017.00" x2="269.60" y2="1047.00" stroke="#231f20" stroke-width="3.4499999999999997"/>
<ellipse cx="269.6" cy="1066.25" rx="61.9" ry="20" stroke="#231f20" stroke-width="3.2" fill="none"/>
<line x1="172.00" y1="1034.00" x2="219.40" y2="1044.00" stroke="#231f20" stroke-width="1.15"/>
<path d="M219.40,1044.00 L204.96,1044.63 L206.44,1037.59 Z" fill="#231f20"/>
<line x1="358.00" y1="1072.00" x2="280.00" y2="1112.50" stroke="#231f20" stroke-width="1.15"/>
<path d="M280.00,1112.50 L290.77,1102.85 L294.08,1109.24 Z" fill="#231f20"/>
<line x1="358.00" y1="1100.00" x2="321.30" y2="1114.40" stroke="#231f20" stroke-width="1.15"/>
<path d="M321.30,1114.40 L333.02,1105.94 L335.65,1112.64 Z" fill="#231f20"/>
<line x1="190.00" y1="1142.50" x2="225.60" y2="1115.80" stroke="#231f20" stroke-width="1.15"/>
<path d="M225.60,1115.80 L216.56,1127.08 L212.24,1121.32 Z" fill="#231f20"/>
<path transform="translate(200,1240) scale(0.133333)" d="M170,265 L395,100 L490,235 L265,400 Z" stroke="#231f20" stroke-width="10.35" fill="#ffffff" stroke-linejoin="round" />
<path transform="translate(200,1240) scale(0.133333)" d="M805,545 L840,528 L960,710 L925,730 Z" stroke="#231f20" stroke-width="9.49" fill="#ffffff" stroke-linejoin="round" />
<path transform="translate(200,1240) scale(0.133333)" d="M480,760 L512,740 L640,940 L605,970 Z" stroke="#231f20" stroke-width="9.49" fill="#ffffff" stroke-linejoin="round" />
<path transform="translate(200,1240) scale(0.133333)" d="M480,690 L890,1265 C940,1200 950,1110 1000,1080 C1040,1060 1075,1085 1095,1080 L700,530" stroke="#231f20" stroke-width="11.21" fill="#ffffff" stroke-linejoin="round" />
<path transform="translate(200,1240) scale(0.133333)" d="M135,400 Q138,372 162,380 L425,785 L398,808 Z" stroke="#231f20" stroke-width="9.49" fill="#ffffff" stroke-linejoin="round" />
<path transform="translate(200,1240) scale(0.133333)" d="M155,392 L410,790" stroke="#231f20" stroke-width="8.62" fill="none" stroke-linejoin="round" />
<path transform="translate(200,1240) scale(0.133333)" d="M150,465 L650,130 L870,405 L370,745 Z" stroke="#231f20" stroke-width="10.35" fill="#ffffff" stroke-linejoin="round" />
<path transform="translate(200,1240) scale(0.133333)" d="M168,482 L660,152 M360,728 L862,390" stroke="#231f20" stroke-width="8.62" fill="none" stroke-linejoin="round" />
<circle transform="translate(200,1240) scale(0.133333)" cx="735" cy="270" r="150" stroke="#231f20" stroke-width="17.25" fill="#ffffff"/>
<g transform="translate(298,1276) rotate(-28)"><path d="M-3.2,-13 H3.2 V-3.2 H13 V3.2 H3.2 V13 H-3.2 V3.2 H-13 V-3.2 H-3.2 Z" stroke="#231f20" stroke-width="1.1" fill="none"/></g>
<line x1="342.60" y1="1144.00" x2="306.60" y2="1259.50" stroke="#231f20" stroke-width="1.15"/>
<path d="M306.60,1259.50 L307.33,1245.06 L314.20,1247.21 Z" fill="#231f20"/>
<line x1="189.40" y1="1369.00" x2="248.70" y2="1325.30" stroke="#231f20" stroke-width="1.15"/>
<path d="M248.70,1325.30 L239.57,1336.50 L235.29,1330.71 Z" fill="#231f20"/>
<line x1="354.70" y1="1340.00" x2="323.30" y2="1354.00" stroke="#231f20" stroke-width="1.15"/>
<path d="M323.30,1354.00 L334.62,1345.01 L337.55,1351.59 Z" fill="#231f20"/>
<path transform="translate(200,1240) scale(0.133333)" d="M65,820 V1070 A170,170 0 0 0 405,1070 V885" stroke="#231f20" stroke-width="10.35" fill="none" stroke-linejoin="round" />
<circle transform="translate(200,1240) scale(0.133333)" cx="238" cy="1065" r="78" stroke="#231f20" stroke-width="11.21" fill="none"/>
<line x1="172.75" y1="1285.00" x2="211.25" y2="1338.50" stroke="#231f20" stroke-width="1.15"/>
<path d="M183.25,1300.90 L173.80,1292.76 L179.47,1289.01 Z" fill="#231f20"/>
<path d="M196.40,1322.75 L207.11,1329.15 L202.16,1333.81 Z" fill="#231f20"/>
<line x1="182.40" y1="1303.50" x2="223.50" y2="1275.50" stroke="#231f20" stroke-width="1.15"/>
<line x1="195.50" y1="1322.00" x2="225.25" y2="1302.60" stroke="#231f20" stroke-width="1.15"/>
<text transform="translate(157.5,1300) rotate(57)" font-size="24" style="font-family:'Liberation Sans', sans-serif" fill="#1a1a1a" textLength="48" lengthAdjust="spacingAndGlyphs">5 mm</text>
<path transform="translate(255,320) scale(0.137501)" d="M85,873 V140 L160,90 L1050,140" stroke="#231f20" stroke-width="10.04" fill="none" stroke-linejoin="round" />
<path transform="translate(255,320) scale(0.137501)" d="M165,873 V95 L1050,150" stroke="#231f20" stroke-width="18.40" fill="none" stroke-linejoin="round" />
<path transform="translate(255,320) scale(0.137501)" d="M182,873 V112 L1045,162" stroke="#231f20" stroke-width="8.36" fill="none" stroke-linejoin="round" />
<path transform="translate(255,320) scale(0.137501)" d="M205,873 V300" stroke="#231f20" stroke-width="8.36" fill="none" stroke-linejoin="round" />
<path transform="translate(255,320) scale(0.137501)" d="M195,172 L1030,217" stroke="#231f20" stroke-width="13.38" fill="none" stroke-linejoin="round" />
<path transform="translate(255,320) scale(0.137501)" d="M618,245 L628,192 L680,160" stroke="#231f20" stroke-width="10.04" fill="none" stroke-linejoin="round" />
<path transform="translate(255,320) scale(0.137501)" d="M205,300 L700,340 Q725,345 725,370 V615 L205,585 Z" stroke="#231f20" stroke-width="12.55" fill="#ffffff" stroke-linejoin="round" />
<path transform="translate(255,320) scale(0.137501)" d="M205,300 V585" stroke="#231f20" stroke-width="16.73" fill="none" stroke-linejoin="round" />
<circle transform="translate(255,320) scale(0.137501)" cx="770" cy="495" r="42" stroke="#231f20" stroke-width="12.55" fill="#ffffff"/>
<path transform="translate(255,320) scale(0.137501)" d="M745,470 L795,520 M795,470 L745,520" stroke="#231f20" stroke-width="8.36" fill="none" stroke-linejoin="round" />
<path transform="translate(255,320) scale(0.137501)" d="M1048,142 C1030,260 900,470 860,560" stroke="#231f20" stroke-width="12.55" fill="none" stroke-linejoin="round" />
<path transform="translate(255,320) scale(0.137501)" d="M725,615 L870,555" stroke="#231f20" stroke-width="10.04" fill="none" stroke-linejoin="round" />
<path transform="translate(255,320) scale(0.137501)" d="M725,615 V660 L575,780 L560,830 L460,830 V873" stroke="#231f20" stroke-width="10.87" fill="none" stroke-linejoin="round" />
<path transform="translate(255,320) scale(0.137501)" d="M585,765 L665,712 M600,790 L670,740" stroke="#231f20" stroke-width="8.36" fill="none" stroke-linejoin="round" />
<path transform="translate(255,320) scale(0.137501)" d="M470,830 L510,850 L500,945" stroke="#231f20" stroke-width="8.36" fill="none" stroke-linejoin="round" />
<line x1="237.00" y1="414.00" x2="292.00" y2="425.20" stroke="#231f20" stroke-width="1.15"/>
<path d="M292.00,425.20 L277.56,425.93 L279.00,418.88 Z" fill="#231f20"/>
<path transform="translate(255,440) scale(0.137501)" d="M85,0 V860 C150,890 240,925 330,945" stroke="#231f20" stroke-width="10.04" fill="none" stroke-linejoin="round" />
<path transform="translate(255,440) scale(0.137501)" d="M165,0 V720" stroke="#231f20" stroke-width="18.40" fill="none" stroke-linejoin="round" />
<path transform="translate(255,440) scale(0.137501)" d="M182,0 V700" stroke="#231f20" stroke-width="8.36" fill="none" stroke-linejoin="round" />
<path transform="translate(255,440) scale(0.137501)" d="M205,0 V600" stroke="#231f20" stroke-width="8.36" fill="none" stroke-linejoin="round" />
<path transform="translate(255,440) scale(0.137501)" d="M460,0 V150" stroke="#231f20" stroke-width="10.87" fill="none" stroke-linejoin="round" />
<path transform="translate(255,440) scale(0.137501)" d="M100,790 V880 M118,800 V885 M135,805 V890" stroke="#231f20" stroke-width="12.55" fill="none" stroke-linejoin="round" />
<path transform="translate(255,440) scale(0.137501)" d="M460,230 L640,330 M470,290 L630,360 M460,230 V470" stroke="#231f20" stroke-width="8.36" fill="none" stroke-linejoin="round" />
<path transform="translate(255,440) scale(0.137501)" d="M300,600 L440,500 L470,460 L650,360 M320,650 L440,560 L660,410" stroke="#231f20" stroke-width="8.36" fill="none" stroke-linejoin="round" />
<path transform="translate(255,440) scale(0.137501)" d="M315,610 H375 V670 H315 Z" stroke="#231f20" stroke-width="8.36" fill="none" stroke-linejoin="round" />
<path transform="translate(255,440) scale(0.137501)" d="M160,720 L240,700" stroke="#231f20" stroke-width="16.73" fill="none" stroke-linejoin="round" />
<circle transform="translate(255,440) scale(0.137501)" cx="240" cy="640" r="45" stroke="#231f20" stroke-width="12.55" fill="#ffffff"/>
<path transform="translate(255,440) scale(0.137501)" d="M220,620 L260,660 M260,620 L220,660" stroke="#231f20" stroke-width="8.36" fill="none" stroke-linejoin="round" />
<path transform="translate(300,390) scale(0.114469)" d="M640,61 L600,210" stroke="#231f20" stroke-width="15.07" fill="none" stroke-linejoin="round" />
<path transform="translate(300,390) scale(0.114469)" d="M600,210 C450,330 330,500 290,670" stroke="#231f20" stroke-width="15.07" fill="none" stroke-linejoin="round" />
<path transform="translate(300,390) scale(0.114469)" d="M585,260 C470,400 390,560 380,720 M570,300 C480,420 420,560 410,720" stroke="#231f20" stroke-width="12.06" fill="none" stroke-linejoin="round" />
<path transform="translate(300,390) scale(0.114469)" d="M560,330 L590,870" stroke="#231f20" stroke-width="10.05" fill="none" stroke-linejoin="round" />
<path transform="translate(300,390) scale(0.114469)" d="M380,730 L570,700 M400,760 L570,740 M450,820 L590,820 M470,860 L590,860 M510,760 H570 V820 H510 Z" stroke="#231f20" stroke-width="10.05" fill="none" stroke-linejoin="round" />
<path transform="translate(300,390) scale(0.114469)" d="M600,950 C625,1100 625,1250 600,1380" stroke="#231f20" stroke-width="12.06" fill="none" stroke-linejoin="round" />
<path transform="translate(300,390) scale(0.114469)" d="M520,1130 H612" stroke="#231f20" stroke-width="30.14" fill="none" stroke-linejoin="round" />
<path transform="translate(300,390) scale(0.114469)" d="M520,1220 H612" stroke="#231f20" stroke-width="30.14" fill="none" stroke-linejoin="round" />
<path transform="translate(300,390) scale(0.114469)" d="M520,1300 H612" stroke="#231f20" stroke-width="30.14" fill="none" stroke-linejoin="round" />
<path transform="translate(300,390) scale(0.114469)" d="M520,960 L610,1040 M605,960 V1045" stroke="#231f20" stroke-width="20.09" fill="none" stroke-linejoin="round" />
<path transform="translate(300,390) scale(0.114469)" d="M490,940 C525,1080 525,1200 490,1290 M420,1360 L520,1470 M270,1490 L320,1560" stroke="#231f20" stroke-width="10.05" fill="none" stroke-linejoin="round" />
<path transform="translate(300,390) scale(0.114469)" d="M0,1552 C250,1600 480,1560 600,1380" stroke="#231f20" stroke-width="12.06" fill="none" stroke-linejoin="round" />
<path transform="translate(300,390) scale(0.114469)" d="M110,1150 C150,1260 190,1350 230,1410 M280,1010 C310,1120 340,1200 380,1280" stroke="#231f20" stroke-width="10.05" fill="none" stroke-linejoin="round" />
<path transform="translate(300,390) scale(0.114469)" d="M30,1565 C60,1500 200,1500 250,1565 M100,1565 C120,1520 180,1520 200,1565" stroke="#231f20" stroke-width="10.05" fill="none" stroke-linejoin="round" />
<path transform="translate(300,390) scale(0.114469)" d="M395,935 C430,1000 450,1080 445,1140" stroke="#231f20" stroke-width="22.10" fill="none" stroke-linejoin="round" />
<circle transform="translate(255,440) scale(0.137501)" cx="385" cy="530" r="340" stroke="#231f20" stroke-width="25.09" fill="none"/>
<path transform="translate(255,440) scale(0.137501)" d="M720,395 H1150" stroke="#231f20" stroke-width="25.09" fill="none" stroke-linejoin="round" />
<path d="M510,562.5 A103,103 0 1 1 585,531.7" stroke="#231f20" stroke-width="3" fill="none"/>
<clipPath id="bc"><circle cx="511" cy="459" r="102"/></clipPath><g clip-path="url(#bc)">
<line x1="425.50" y1="393.00" x2="425.50" y2="525.00" stroke="#231f20" stroke-width="1.265"/>
<line x1="446.50" y1="375.00" x2="446.50" y2="515.00" stroke="#231f20" stroke-width="1.4949999999999999"/>
<line x1="452.00" y1="373.00" x2="452.00" y2="513.00" stroke="#231f20" stroke-width="2.3"/>
<line x1="459.50" y1="371.00" x2="459.50" y2="512.00" stroke="#231f20" stroke-width="1.265"/>
<line x1="463.00" y1="371.00" x2="463.00" y2="480.00" stroke="#231f20" stroke-width="1.265"/>
<path d="M463,480 H500" stroke="#231f20" stroke-width="1.265" fill="none" stroke-linejoin="round" />
<path d="M447,514 L470,506 L495,501" stroke="#231f20" stroke-width="1.38" fill="none" stroke-linejoin="round" />
<path d="M442,516 C435,520 438,540 442,550" stroke="#231f20" stroke-width="1.15" fill="none" stroke-linejoin="round" />
<line x1="534.40" y1="360.00" x2="534.40" y2="446.00" stroke="#231f20" stroke-width="1.38"/>
<path d="M470,492 L521,465.3 M478,507 L528.5,474.5" stroke="#231f20" stroke-width="1.4949999999999999" fill="none" stroke-linejoin="round" />
<path transform="translate(490,370) scale(0.108342)" d="M285,880 L480,770 M355,965 L540,860" stroke="#231f20" stroke-width="14.86" fill="none" stroke-linejoin="round" />
<path transform="translate(490,370) scale(0.108342)" d="M320,800 L440,620 L470,640" stroke="#231f20" stroke-width="10.61" fill="none" stroke-linejoin="round" />
<path transform="translate(490,370) scale(0.108342)" d="M580,560 L830,450 L870,420 M740,850 L960,740 L1130,730" stroke="#231f20" stroke-width="14.86" fill="none" stroke-linejoin="round" />
<path transform="translate(490,370) scale(0.108342)" d="M590,570 L740,880" stroke="#231f20" stroke-width="12.74" fill="none" stroke-linejoin="round" />
<path transform="translate(490,370) scale(0.108342)" d="M650,590 L670,560 M690,570 L710,540 M730,555 L750,525 M770,540 L790,510 M810,525 L830,495" stroke="#231f20" stroke-width="10.61" fill="none" stroke-linejoin="round" />
<path transform="translate(490,370) scale(0.108342)" d="M720,700 L790,820 M760,690 L830,810 M800,670 L870,790 M840,655 L910,770 M880,640 L950,760" stroke="#231f20" stroke-width="10.61" fill="none" stroke-linejoin="round" />
<path transform="translate(490,370) scale(0.108342)" d="M520,560 Q470,570 475,640 L570,920 Q600,975 660,960 L700,950 Q750,920 730,850 L640,600 Q620,550 560,555 Z" stroke="#231f20" stroke-width="14.86" fill="#ffffff" stroke-linejoin="round" />
<path transform="translate(490,370) scale(0.108342)" d="M500,700 L640,640 M540,830 L690,760 M520,600 Q490,620 500,660 L590,900 Q610,930 650,920" stroke="#231f20" stroke-width="10.61" fill="none" stroke-linejoin="round" />
<path transform="translate(490,370) scale(0.108342)" d="M430,120 Q480,90 520,120 L740,220 M430,220 L700,320 M700,230 Q690,320 740,330 L980,300 M840,230 Q800,300 870,330 M890,220 Q860,300 920,320" stroke="#231f20" stroke-width="11.68" fill="none" stroke-linejoin="round" />
<path transform="translate(490,370) scale(0.108342)" d="M440,330 L660,300 L780,350 L470,410 Z M520,300 V350 M570,300 V345" stroke="#231f20" stroke-width="10.61" fill="none" stroke-linejoin="round" />
<path transform="translate(490,370) scale(0.108342)" d="M660,40 L660,160 M660,420 V500" stroke="#231f20" stroke-width="10.61" fill="none" stroke-linejoin="round" />
<path transform="translate(490,370) scale(0.108342)" d="M740,950 C800,1150 870,1300 920,1385 M940,760 C980,900 1030,1050 1080,1150 M960,760 C1000,900 1050,1050 1100,1150" stroke="#231f20" stroke-width="12.74" fill="none" stroke-linejoin="round" />
<path transform="translate(490,370) scale(0.108342)" d="M960,740 L1130,740 M960,790 L1130,790 M1000,930 L1130,930 M1000,980 L1130,980" stroke="#231f20" stroke-width="10.61" fill="none" stroke-linejoin="round" />
<path transform="translate(490,370) scale(0.108342)" d="M1000,420 Q960,360 1020,360 M1090,600 Q1060,650 1100,660" stroke="#231f20" stroke-width="10.61" fill="none" stroke-linejoin="round" />
<path transform="translate(490,370) scale(0.108342)" d="M0,1140 L190,1045 V1230 L20,1230 V1150" stroke="#231f20" stroke-width="11.68" fill="none" stroke-linejoin="round" />
<circle cx="470.60" cy="493.00" r="12.00" stroke="#231f20" stroke-width="1.8399999999999999" fill="#ffffff"/>
<path d="M465,487 L476,499 M476,487 L465,499" stroke="#231f20" stroke-width="1.15" fill="none" stroke-linejoin="round" />
</g>
<path transform="translate(490,370) scale(0.108342)" d="M165,600 C110,780 150,960 320,1085 L270,1190 L535,1180 L480,950 L420,1010 C260,900 220,760 275,615 Z" stroke="#231f20" stroke-width="6.37" fill="#231f20" stroke-linejoin="round" />
<line x1="530.00" y1="501.00" x2="541.00" y2="527.00" stroke="#231f20" stroke-width="1.15"/>
<line x1="622.50" y1="366.00" x2="524.00" y2="376.70" stroke="#231f20" stroke-width="1.15"/>
<path d="M524.00,376.70 L537.53,371.61 L538.31,378.77 Z" fill="#231f20"/>
<line x1="874.50" y1="449.50" x2="1000.50" y2="458.50" stroke="#231f20" stroke-width="1.15"/>
<path d="M1000.50,458.50 L986.28,461.09 L986.79,453.91 Z" fill="#231f20"/>

</svg>
</body></html>
